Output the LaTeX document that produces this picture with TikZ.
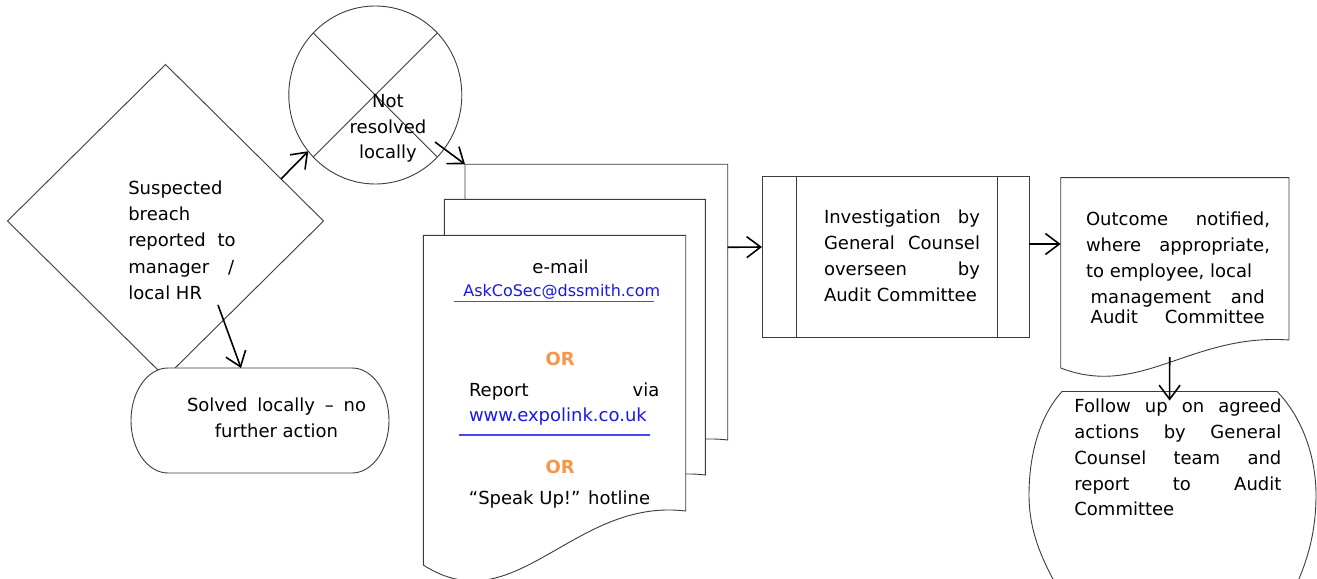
\documentclass[tikz,border=0pt]{standalone}
\usepackage{fontspec}
\setmainfont{DejaVu Sans}
\usetikzlibrary{shapes.geometric,arrows.meta,calc}
\definecolor{linkblue}{RGB}{25,25,235}
\definecolor{ulblue}{RGB}{70,70,245}
\definecolor{ororange}{RGB}{247,150,70}
\definecolor{edgegray}{RGB}{60,60,60}
\begin{document}
\begin{tikzpicture}[x=1bp,y=-1bp,
  shp/.style={draw=edgegray,line width=0.9bp,fill=white},
  thinline/.style={draw=edgegray,line width=0.9bp},
  arr/.style={draw=black,line width=1.6bp,-{Straight Barb[length=14bp,width=21bp]}},
  txt/.style={inner sep=0pt,outer sep=0pt,font=\fontsize{18bp}{26bp}\selectfont},
  anchorbox/.style={inner sep=0pt,outer sep=0pt,anchor=north west},
  ul/.style={draw=ulblue,line width=1.4bp}]
\fill[white] (0,0) rectangle (1317,579);
\useasboundingbox (0,0) rectangle (1317,579);
\begin{scope}
\clip (0,0) rectangle (1317,579);
% decision
\node[diamond,shp,minimum width=316bp,minimum height=313bp,inner sep=0pt,outer sep=0pt] (breach) at (165.5,221) {};
% terminator
\node[inner sep=0pt,outer sep=0pt,minimum width=258bp,minimum height=105bp] (solved) at (260,420.5) {};
\draw[shp] (168,368) -- (352,368) arc[start angle=-90,end angle=90,x radius=37,y radius=52.5]
  -- (168,473) arc[start angle=90,end angle=270,x radius=37,y radius=52.5] -- cycle;
% summing junction
\node[ellipse,shp,minimum width=173bp,minimum height=178bp,inner sep=0pt,outer sep=0pt] (notres) at (375.3,95) {};
\draw[thinline] (notres.135) -- (notres.-45) (notres.45) -- (notres.-135);
% document stack
\node[anchorbox,minimum width=262.7bp,minimum height=275.7bp] (doc3) at (465,164.3) {};
\draw[shp] (doc3.north west) -- (doc3.north east) -- (doc3.south east)
  .. controls (615,426.3) and (556.8,553.3) .. (465,494) -- cycle;
\node[anchorbox,minimum width=261bp,minimum height=275.7bp] (doc2) at (444.3,199.3) {};
\draw[shp] (doc2.north west) -- (doc2.north east) -- (doc2.south east)
  .. controls (594.3,461.3) and (536.1,588.3) .. (444.3,529) -- cycle;
\node[anchorbox,minimum width=262.4bp,minimum height=275.7bp] (doc1) at (423.3,235.3) {};
\draw[shp] (doc1.north west) -- (doc1.north east) -- (doc1.south east)
  .. controls (573.3,497.3) and (515.1,624.3) .. (423.3,565) -- cycle;
% predefined process
\node[shp,minimum width=267bp,minimum height=161bp,inner sep=0pt,outer sep=0pt] (proc) at (895.5,256.5) {};
\draw[thinline] ($(proc.north west)+(34,0)$) -- ($(proc.south west)+(34,0)$)
  ($(proc.north east)+(-32,0)$) -- ($(proc.south east)+(-32,0)$);
% outcome document
\node[anchorbox,minimum width=228.3bp,minimum height=162.3bp] (outc) at (1060.7,177.7) {};
\draw[shp] (outc.north west) -- (outc.north east) -- (outc.south east)
  .. controls (1190.8,333) and (1140.6,398.8) .. (1060.7,368) -- cycle;
% follow up shape
\node[anchorbox,minimum width=215bp,minimum height=190bp] (follow) at (1062,391.5) {};
\draw[shp] (follow.north west) -- (follow.north east)
  .. controls (1303,418) and (1316,458) .. (1316,495)
  .. controls (1316,535) and (1306,565) .. (1293,592) -- (1060,592)
  .. controls (1045,565) and (1029,535) .. (1029,495)
  .. controls (1029,458) and (1038,418) .. (follow.north west) -- cycle;
% texts
\node[txt,font=\fontsize{18bp}{26.3bp}\selectfont,anchor=base west] (breachtxt) at (128.3,194.3)
  {\parbox[t]{108bp}{\raggedright Suspected\\breach\\\makebox[107.4bp][s]{reported to}\\\makebox[106bp][s]{manager /}\\local HR}};
\node[txt,anchor=base west] (solvedtxt) at (187,411)
  {\parbox[t]{179bp}{\centering\makebox[179bp][s]{Solved locally – no}\\further action}};
\node[txt,font=\fontsize{18bp}{25.5bp}\selectfont,anchor=base] (notrestxt) at (388,107.7)
  {\parbox[t]{110bp}{\centering Not\\resolved\\locally}};
\node[txt,anchor=base] (emailtxt) at (560.5,273.3) {e-mail};
\node[txt,font=\fontsize{16bp}{20bp}\selectfont,text=linkblue,anchor=base west] (asktxt) at (463.3,296.7) {AskCoSec@dssmith.com};
\node[txt,font=\fontsize{18bp}{26bp}\selectfont\bfseries,text=ororange,anchor=base] (ortxta) at (560.2,365) {OR};
\node[txt,anchor=base west] (reporttxt) at (469,396.7) {\makebox[190.3bp][s]{Report via}};
\node[txt,text=linkblue,anchor=base west] (linktxt) at (469,421.7) {www.expolink.co.uk};
\node[txt,font=\fontsize{18bp}{26bp}\selectfont\bfseries,text=ororange,anchor=base] (ortxtb) at (560.2,473.3) {OR};
\node[txt,anchor=base] (speaktxt) at (559.5,504.3) {“Speak Up!” hotline};
\draw[ul] (454,301.7) -- (654,301.7);
\draw[ul] (458.7,435) -- (650,435);
\node[txt,font=\fontsize{18bp}{26.2bp}\selectfont,anchor=base west] (proctxt) at (824,223.3)
  {\parbox[t]{156bp}{\raggedright\makebox[156bp][s]{Investigation by}\\\makebox[156bp][s]{General Counsel}\\\makebox[156bp][s]{overseen by}\\Audit Committee}};
\node[txt,anchor=base west] (outctxt) at (1086,225)
  {\parbox[t]{184bp}{\raggedright\makebox[184bp][s]{Outcome notified,}\\\makebox[184bp][s]{where appropriate,}\\to employee, local\\\hspace*{4.7bp}\makebox[174bp][s]{management and}\\[-6bp]\hspace*{4.7bp}\makebox[174bp][s]{Audit Committee}}};
\node[txt,font=\fontsize{18bp}{25.8bp}\selectfont,anchor=base west] (followtxt) at (1074.4,412.7)
  {\parbox[t]{207bp}{\raggedright\makebox[207bp][s]{Follow up on agreed}\\\makebox[207bp][s]{actions by General}\\\makebox[207bp][s]{Counsel team and}\\\makebox[207bp][s]{report to Audit}\\Committee}};
% connectors
\coordinate (a2s) at (435,142);
\coordinate (a3s) at (218,305);
\draw[arr] (breach.20) -- (notres.220);
\draw[arr] (a2s) -- (doc3.north west);
\draw[arr] (a3s) -- ($(solved.north)+(-19,0)$);
\draw[arr] ($(doc3.north east)+(0,83)$) -- ($(proc.north west)+(0,71)$);
\draw[arr] ($(proc.north east)+(0,68)$) -- ($(outc.north west)+(0,66.3)$);
\draw[arr] ($(outc.south west)+(109,17)$) -- ($(follow.north west)+(107.6,9)$);
\end{scope}
\end{tikzpicture}
\end{document}
